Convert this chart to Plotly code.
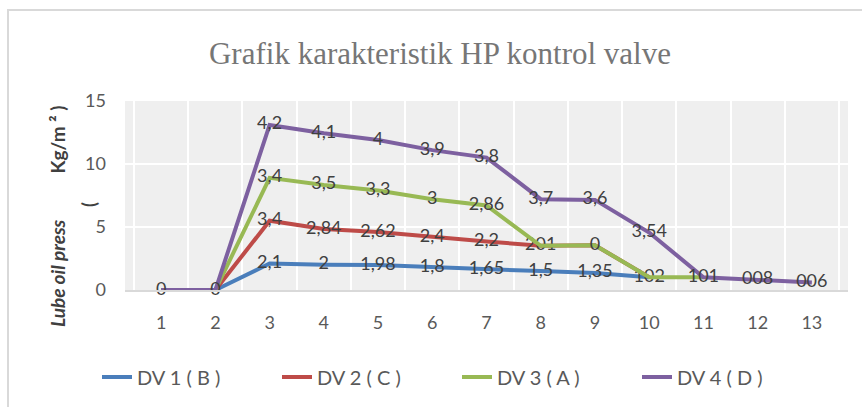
import numpy as np
import plotly.graph_objects as go

categories = ["1", "2", "3", "4", "5", "6", "7", "8", "9", "10", "11", "12", "13"]

dv1 = [0, 0, 2.1, 2.0, 1.98, 1.8, 1.65, 1.5, 1.35, 1.02, None, None, None]
dv2 = [0, 0, 3.4, 2.84, 2.62, 2.4, 2.2, 2.01, 2.2, 0, None, None, None]
dv3 = [0, 0, 3.4, 3.5, 3.3, 3.0, 2.86, 0, 0, 0, 1.01, None, None]
dv4 = [0, 0, 4.2, 4.1, 4.0, 3.9, 3.8, 3.7, 3.6, 3.54, 0, 0.8, 0.6]

lab1 = ["", "", "2,1", "2", "1,98", "1,8", "1,65", "1,5", "1,35", "102", "", "", ""]
lab2 = ["", "", "3,4", "2,84", "2,62", "2,4", "2,2", "201", "", "", "", "", ""]
lab3 = ["", "", "3,4", "3,5", "3,3", "3", "2,86", "", "0", "", "", "", ""]
lab4 = ["0", "0", "4,2", "4,1", "4", "3,9", "3,8", "3,7", "3,6", "3,54", "101", "008", "006"]

names = ["DV 1 ( B )", "DV 2 ( C )", "DV 3 ( A )", "DV 4 ( D )"]
colors = ["#4A7EBB", "#BE4B48", "#98B954", "#7D60A0"]
series = [dv1, dv2, dv3, dv4]
labels = [lab1, lab2, lab3, lab4]

fig = go.Figure()
running = np.zeros(len(categories))
for vals, labs, name, col in zip(series, labels, names, colors):
    arr = np.array([np.nan if v is None else v for v in vals], dtype=float)
    running = running + np.nan_to_num(arr)
    ydraw = np.where(np.isnan(arr), np.nan, running)
    fig.add_trace(go.Scatter(
        x=categories, y=ydraw, name=name, mode="lines+text",
        text=labs, textposition="middle center",
        textfont=dict(family="Lato, Open Sans, sans-serif", size=18, color="#404040"),
        line=dict(color=col, width=4), connectgaps=False, cliponaxis=False,
    ))

W, H = 862, 407
L, R, T, B = 125, 848, 101, 290
pw, ph = R - L, B - T

def px_x(px):
    return (px - L) / pw

def px_y(py):
    return (B - py) / ph

ytitle = ("<b><i>Lube oil press</i>" + "&nbsp;" * 10 + "Kg/m ² )" + "&nbsp;" * 9 + "</b>")

fig.update_layout(
    width=W, height=H,
    margin=dict(l=L, r=W - R, t=T, b=H - B, autoexpand=False),
    paper_bgcolor="white",
    plot_bgcolor="#efefef",
    title=dict(text="Grafik karakteristik HP kontrol valve", x=440 / W, xanchor="center",
               xref="container", y=1 - 53 / H, yanchor="middle", automargin=False,
               font=dict(family="Liberation Serif, serif", size=31, color="#767676")),
    font=dict(family="Lato, Open Sans, sans-serif", size=17, color="#595959"),
    showlegend=True,
    legend=dict(orientation="h", x=px_x(97), xanchor="left", y=px_y(377), yanchor="middle",
                font=dict(size=20, color="#595959"), entrywidth=135, traceorder="normal"),
    xaxis=dict(type="category", tickson="boundaries", showgrid=True, gridcolor="#ffffff",
               gridwidth=1.5, ticks="", showline=True, linecolor="#d9d9d9", linewidth=2,
               tickfont=dict(size=18, color="#595959"), zeroline=False, automargin=False,
               ticklabelstandoff=15),
    yaxis=dict(range=[0, 15], dtick=5, showgrid=True, gridcolor="#ffffff", gridwidth=1.5,
               zeroline=False, ticks="", tickfont=dict(size=18, color="#595959"),
               automargin=False, ticklabelstandoff=18,
               title=dict(text=ytitle, standoff=14,
                          font=dict(size=19, color="#404040"))),
    shapes=[dict(type="rect", xref="paper", yref="paper",
                 x0=px_x(8), x1=px_x(880), y0=px_y(420), y1=px_y(10),
                 line=dict(color="#d9d9d9", width=2), fillcolor="rgba(0,0,0,0)", layer="below")],
    annotations=[dict(text="<b>(</b>", xref="paper", yref="paper", x=px_x(89), y=px_y(205),
                      xanchor="center", yanchor="middle",
                      showarrow=False, textangle=-90, font=dict(size=18, color="#404040"))],
)

fig.write_html("out.html", post_script="document.body.style.margin='0';",
               config={"displayModeBar": False})
